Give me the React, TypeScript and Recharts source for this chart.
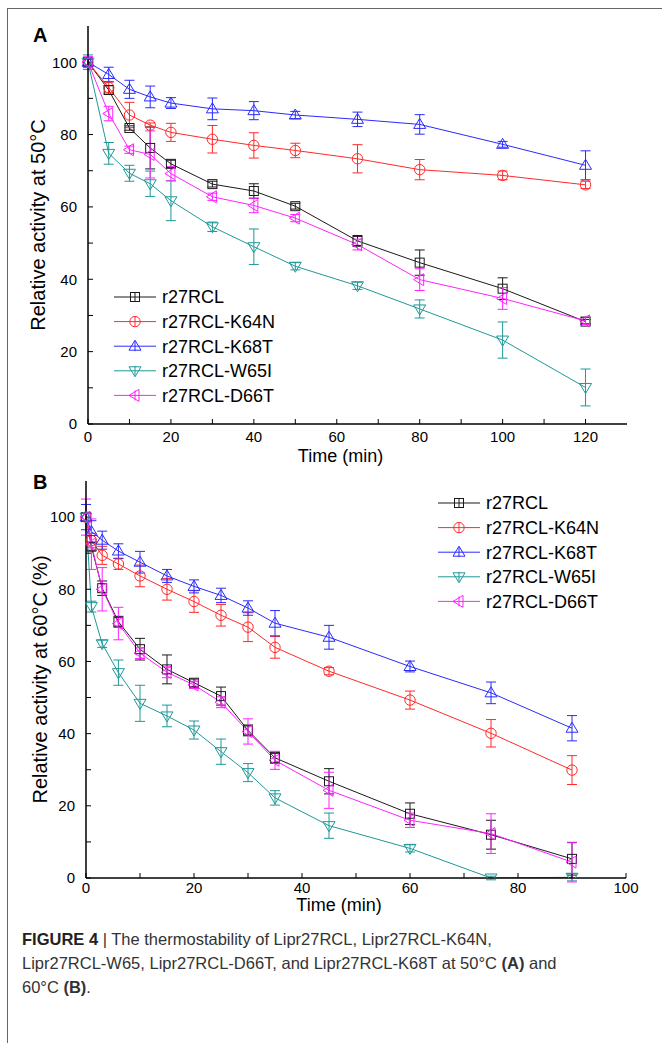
import React from 'react';
import { LineChart, Line, XAxis, YAxis, ErrorBar, Legend, Label } from 'recharts';

const FONT = '"Liberation Sans", Arial, sans-serif';

// Panel A: 50 °C
const timeA = [0, 5, 10, 15, 20, 30, 40, 50, 65, 80, 100, 120];
const wtA = [100, 92.3, 81.8, 76.3, 71.9, 66.3, 64.4, 60.2, 50.6, 44.6, 37.4, 28.3];
const wtAErr = [0.8, 1.2, 0.6, 5.8, 1.0, 0.8, 2.0, 0.8, 1.5, 3.5, 3.0, 0.6];
const k64nA = [100, 93.0, 85.4, 82.6, 80.6, 78.7, 77.0, 75.6, 73.3, 70.3, 68.7, 66.1];
const k64nAErr = [1.0, 1.5, 3.5, 0.6, 2.5, 3.8, 3.5, 2.0, 3.9, 2.8, 1.2, 1.0];
const k68tA = [100, 96.6, 92.5, 90.4, 88.7, 87.1, 86.6, 85.4, 84.2, 82.8, 77.3, 71.5];
const k68tAErr = [1.0, 2.0, 2.5, 3.0, 1.5, 3.0, 2.5, 1.0, 2.0, 2.7, 0.8, 4.0];
const w65iA = [100, 74.8, 69.3, 66.4, 61.7, 54.5, 49.0, 43.6, 38.2, 31.8, 23.2, 10.1];
const w65iAErr = [2.0, 3.0, 2.2, 3.5, 5.5, 1.3, 4.9, 1.0, 1.0, 2.5, 5.0, 5.1];
const d66tA = [100, 85.8, 75.8, 74.5, 69.2, 62.8, 60.4, 56.9, 49.6, 39.9, 34.7, 28.5];
const d66tAErr = [1.5, 2.0, 1.0, 6.5, 2.0, 1.0, 2.0, 1.0, 1.5, 3.0, 3.0, 1.0];

// Panel B: 60 °C
const timeB = [0, 1, 3, 6, 10, 15, 20, 25, 30, 35, 45, 60, 75, 90];
const wtB = [100, 91.8, 80.3, 71.0, 63.4, 57.8, 54.1, 50.4, 40.9, 33.3, 26.8, 17.8, 12.0, 5.3];
const wtBErr = [1, 1, 2, 1.5, 3, 4, 1, 2.5, 1.5, 1.5, 3.5, 3, 4, 4.5];
const k64nB = [100, 93.5, 89.4, 87.0, 83.7, 80.0, 76.6, 72.8, 69.5, 63.9, 57.3, 49.3, 40.1, 29.9];
const k64nBErr = [1, 2, 2.5, 1.5, 3, 3, 3, 3, 4, 3, 1, 2.5, 3.8, 4];
const k68tB = [100, 96, 93.6, 90.6, 87.5, 83.7, 80.8, 78.3, 74.8, 70.6, 66.7, 58.6, 51.3, 41.5];
const k68tBErr = [3.5, 3, 2.5, 2, 3, 1.8, 1.8, 2, 2, 3.5, 3.3, 1.5, 3, 3.5];
const w65iB = [100, 75.2, 64.9, 56.9, 48.4, 44.9, 41.0, 35.0, 29.2, 22.2, 14.5, 8.2, 0, 0.2];
const w65iBErr = [1, 1.5, 1, 3.5, 5, 3, 2.5, 3.5, 2.5, 2, 3.5, 1, 0.5, 1];
const d66tB = [100, 92.5, 80.0, 70.5, 62.3, 57.0, 53.5, 48.7, 40.6, 32.6, 24.3, 16.0, 12.3, 4.4];
const d66tBErr = [5, 7, 6, 4.5, 1.5, 1.5, 1, 1.5, 3.5, 2.5, 5, 2, 5.5, 5.5];

const xTicksA = [0, 10, 20, 30, 40, 50, 60, 70, 80, 90, 100, 110, 120];
const xTicksB = [0, 10, 20, 30, 40, 50, 60, 70, 80, 90, 100];
const yTicks = [0, 10, 20, 30, 40, 50, 60, 70, 80, 90, 100];

const SERIES = [
  { key: 'wt', name: 'r27RCL', color: '#1a1a1a', shape: 'square' },
  { key: 'k64n', name: 'r27RCL-K64N', color: '#ff2a2a', shape: 'circle' },
  { key: 'k68t', name: 'r27RCL-K68T', color: '#2a2aff', shape: 'up' },
  { key: 'w65i', name: 'r27RCL-W65I', color: '#1f9898', shape: 'down' },
  { key: 'd66t', name: 'r27RCL-D66T', color: '#ff22ff', shape: 'left' },
];

const rowsA = timeA.map((t, i) => ({
  t,
  wt: wtA[i], wtErr: wtAErr[i],
  k64n: k64nA[i], k64nErr: k64nAErr[i],
  k68t: k68tA[i], k68tErr: k68tAErr[i],
  w65i: w65iA[i], w65iErr: w65iAErr[i],
  d66t: d66tA[i], d66tErr: d66tAErr[i],
}));

const rowsB = timeB.map((t, i) => ({
  t,
  wt: wtB[i], wtErr: wtBErr[i],
  k64n: k64nB[i], k64nErr: k64nBErr[i],
  k68t: k68tB[i], k68tErr: k68tBErr[i],
  w65i: w65iB[i], w65iErr: w65iBErr[i],
  d66t: d66tB[i], d66tErr: d66tBErr[i],
}));

function Marker({ cx, cy, shape, color }: any) {
  if (cx == null || cy == null) return null;
  const st = { fill: 'none', stroke: color, strokeWidth: 1 };
  switch (shape) {
    case 'square':
      return <rect x={cx - 4.5} y={cy - 4.5} width={9} height={9} {...st} />;
    case 'circle':
      return <circle cx={cx} cy={cy} r={5.2} {...st} />;
    case 'up':
      return <polygon points={`${cx},${cy - 6} ${cx + 6},${cy + 4} ${cx - 6},${cy + 4}`} {...st} />;
    case 'down':
      return <polygon points={`${cx},${cy + 6} ${cx + 6},${cy - 4} ${cx - 6},${cy - 4}`} {...st} />;
    default:
      return <polygon points={`${cx - 6},${cy} ${cx + 4},${cy - 6} ${cx + 4},${cy + 6}`} {...st} />;
  }
}

function LegendBox({ gap }: { gap: number }) {
  return (
    <svg width={200} height={135} style={{ display: 'block' }}>
      {SERIES.map((s, i) => {
        const y = 12 + i * gap;
        return (
          <g key={s.key}>
            <line x1={4} x2={46} y1={y} y2={y} stroke={s.color} strokeWidth={1} />
            <line x1={25} x2={25} y1={y - 5} y2={y + 5} stroke={s.color} strokeWidth={1} />
            <Marker cx={25} cy={y} shape={s.shape} color={s.color} />
            <text x={52} y={y} dy="0.36em" fontSize={18} fontFamily={FONT} fill="#000">
              {s.name}
            </text>
          </g>
        );
      })}
    </svg>
  );
}

function Panel({ data, height, margin, yWidth, xMax, xTicks, yTitle, xTickGap, xLabelOffset, yLabelShift, legendLeft, legendTop }: any) {
  return (
    <LineChart width={662} height={height} data={data} margin={margin} style={{ fontFamily: FONT }}>
      <XAxis
        dataKey="t"
        type="number"
        domain={[0, xMax]}
        ticks={xTicks}
        interval={0}
        tickFormatter={(v: number) => (v % 20 === 0 ? String(v) : '')}
        tickSize={-5}
        tickMargin={xTickGap}
        height={40}
        axisLine={{ stroke: '#000', strokeWidth: 1.5 }}
        tickLine={{ stroke: '#000' }}
        tick={{ fill: '#000', fontSize: 15 }}
      >
        <Label value="Time (min)" position="insideBottom" offset={xLabelOffset} dx={-17} style={{ fontSize: 18, fill: '#000' }} />
      </XAxis>
      <XAxis xAxisId="top" orientation="top" type="number" domain={[0, xMax]} height={0} tick={false} tickLine={false} axisLine={{ stroke: '#000', strokeWidth: 1.5 }} />
      <YAxis
        type="number"
        domain={[0, 110]}
        ticks={yTicks}
        interval={0}
        allowDataOverflow
        tickFormatter={(v: number) => (v % 20 === 0 ? String(v) : '')}
        width={yWidth}
        tickSize={-5}
        tickMargin={16}
        axisLine={{ stroke: '#000', strokeWidth: 1.5 }}
        tickLine={{ stroke: '#000' }}
        tick={{ fill: '#000', fontSize: 15 }}
      >
        <Label value={yTitle} angle={-90} position="insideLeft" offset={45} dx={yLabelShift} style={{ textAnchor: 'middle', fontSize: 20, fill: '#000' }} />
      </YAxis>
      <YAxis yAxisId="right" orientation="right" type="number" domain={[0, 110]} width={0} tick={false} tickLine={false} axisLine={{ stroke: '#000', strokeWidth: 1.5 }} />
      <Legend
        layout="vertical"
        align="center"
        verticalAlign="middle"
        wrapperStyle={{ left: legendLeft, top: legendTop }}
        content={() => <LegendBox gap={24.6} />}
      />
      {SERIES.map((s) => (
        <Line
          key={s.key}
          dataKey={s.key}
          name={s.name}
          type="linear"
          stroke={s.color}
          strokeWidth={1}
          isAnimationActive={false}
          activeDot={false}
          dot={(p: any) => <Marker key={`${s.key}-${p.index}`} cx={p.cx} cy={p.cy} shape={s.shape} color={s.color} />}
        >
          <ErrorBar dataKey={`${s.key}Err`} width={5} stroke={s.color} strokeWidth={1} direction="y" />
        </Line>
      ))}
    </LineChart>
  );
}

export default function App() {
  return (
    <div style={{ position: 'fixed', left: 0, top: 0, width: 662, height: 1043, background: '#fff', overflow: 'hidden', fontFamily: FONT }}>
      <div style={{ position: 'absolute', left: 7, top: 8, width: 700, height: 1100, borderLeft: '1px solid #666', borderTop: '1px solid #666' }} />
      <div style={{ position: 'absolute', left: 0, top: 0 }}>
        <Panel
          data={rowsA}
          height={480}
          margin={{ top: 26, right: 35, bottom: 16, left: 0 }}
          yWidth={88}
          xMax={130}
          xTicks={xTicksA}
          yTitle="Relative activity at 50°C"
          xTickGap={12.5}
          xLabelOffset={2.5}
          yLabelShift={-7}
          legendLeft={110}
          legendTop={285}
        />
      </div>
      <div style={{ position: 'absolute', left: 0, top: 450 }}>
        <Panel
          data={rowsB}
          height={470}
          margin={{ top: 31, right: 36, bottom: 2, left: 0 }}
          yWidth={86}
          xMax={100}
          xTicks={xTicksB}
          yTitle="Relative activity at 60°C (%)"
          xTickGap={9}
          xLabelOffset={7}
          yLabelShift={-5}
          legendLeft={434}
          legendTop={41}
        />
      </div>
      <div style={{ position: 'absolute', left: 33, top: 24, fontSize: 20, fontWeight: 'bold', color: '#000' }}>A</div>
      <div style={{ position: 'absolute', left: 33, top: 471, fontSize: 20, fontWeight: 'bold', color: '#000' }}>B</div>
      <div style={{ position: 'absolute', left: 22, top: 927, fontSize: 16.5, lineHeight: '24px', color: '#333', whiteSpace: 'nowrap' }}>
        <b style={{ color: '#222' }}>FIGURE 4</b> | The thermostability of Lipr27RCL, Lipr27RCL-K64N,
        <br />
        Lipr27RCL-W65, Lipr27RCL-D66T, and Lipr27RCL-K68T at 50°C <b>(A)</b> and
        <br />
        60°C <b>(B)</b>.
      </div>
    </div>
  );
}
